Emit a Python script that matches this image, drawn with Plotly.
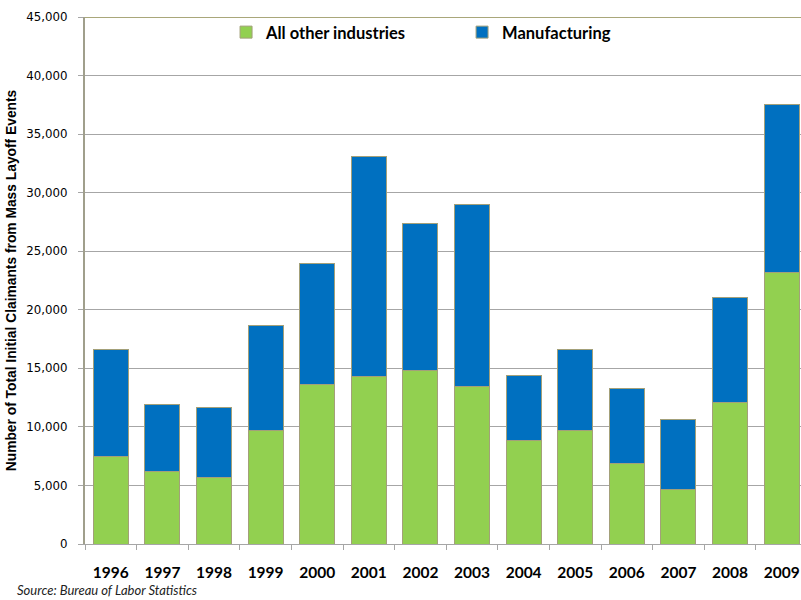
import plotly.graph_objects as go

years = ["1996", "1997", "1998", "1999", "2000", "2001", "2002",
         "2003", "2004", "2005", "2006", "2007", "2008", "2009"]
other_industries = [7460, 6210, 5670, 9650, 13630, 14320, 14800,
                    13440, 8880, 9650, 6860, 4670, 12070, 23200]
manufacturing = [9190, 5720, 6000, 8970, 10280, 18730, 12530,
                 15540, 5520, 7000, 6430, 5980, 8970, 14290]
y_ticks = list(range(0, 45001, 5000))

outline = dict(color="#a3a079", width=1)

fig = go.Figure()
fig.add_trace(go.Bar(
    x=years, y=other_industries, name="All other industries",
    marker=dict(color="#92d050", line=outline),
))
fig.add_trace(go.Bar(
    x=years, y=manufacturing, name="Manufacturing",
    marker=dict(color="#0070c0", line=outline),
))

fig.update_layout(
    width=801, height=600,
    margin=dict(l=85, r=0, t=17, b=56),
    barmode="stack",
    bargap=0.32,
    plot_bgcolor="white",
    paper_bgcolor="white",
    showlegend=True,
    legend=dict(
        orientation="h",
        x=0.197, y=1.004, xanchor="left", yanchor="top",
        font=dict(family="Lato", size=16.5, color="black", weight="bold"),
        entrywidth=191, entrywidthmode="pixels",
        traceorder="normal",
        bgcolor="rgba(0,0,0,0)",
    ),
    xaxis=dict(
        type="category",
        range=[-0.5, 13.375],
        showgrid=False,
        showline=True, linecolor="#a6a6a6", linewidth=1,
        ticks="outside", tickson="boundaries", ticklen=5,
        tickcolor="#a6a6a6",
        tickfont=dict(family="Lato", size=15.5, color="black", weight="bold"),
        ticklabelstandoff=14,
    ),
    yaxis=dict(
        range=[0, 45000],
        tickvals=y_ticks,
        tickformat=",d",
        showgrid=True, gridcolor="#a6a6a6", gridwidth=1,
        zeroline=False,
        showline=True, linecolor="#a09f8c", linewidth=2,
        ticks="outside", ticklen=5, tickcolor="#a6a6a6",
        tickfont=dict(family="DejaVu Sans", size=11.8, color="black"),
        ticklabelstandoff=8,
        title=dict(
            text="Number of Total Initial Claimants from Mass Layoff Events",
            font=dict(family="Liberation Sans", size=13.8, color="black", weight="bold"),
            standoff=7,
        ),
    ),
    shapes=[
        dict(type="line", xref="paper", yref="y", x0=0, x1=1, y0=45000, y1=45000,
             line=dict(color="#8c8a4e", width=1.5)),
    ],
    annotations=[
        dict(text="<i>Source: Bureau of Labor Statistics</i>",
             xref="paper", yref="paper", x=-70 / 716, y=-56 / 527,
             xanchor="left", yanchor="bottom", showarrow=False,
             font=dict(family="Lato", size=13, color="#222222")),
    ],
)

fig.write_html("out.html")
